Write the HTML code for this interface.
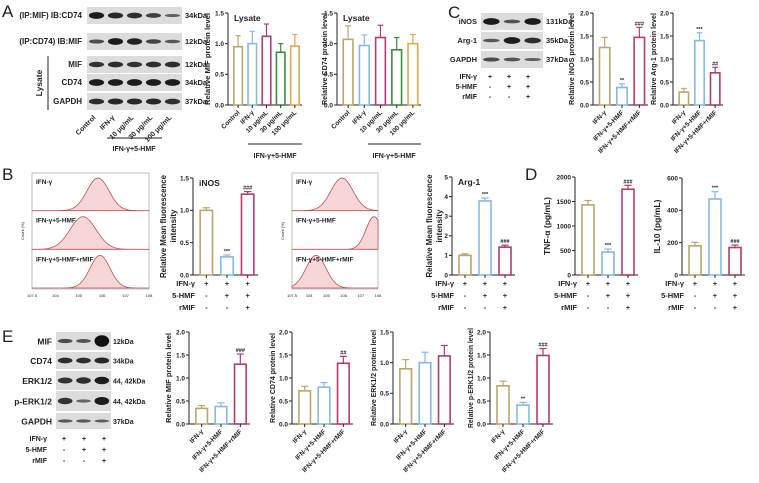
<!DOCTYPE html>
<html><head><meta charset="utf-8">
<style>
html,body{margin:0;padding:0;background:#fff;}
svg{display:block;font-family:"Liberation Sans",Arial,sans-serif;}
text{fill:#222;}
</style></head>
<body>
<svg id="fig" width="759" height="483" viewBox="0 0 759 483" xmlns="http://www.w3.org/2000/svg"></svg>
<script>
// ---------- data ----------
const groups3 = ["IFN-γ","IFN-γ+5-HMF","IFN-γ+5-HMF+rMIF"];
const groupsA = ["Control","IFN-γ","10 μg/mL","30 μg/mL","100 μg/mL"];
const aMifVals = [0.95,1.0,1.12,0.86,0.96];
const aMifErr = [0.18,0.2,0.2,0.14,0.19];
const aCd74Vals = [1.07,0.97,1.1,0.9,1.0];
const aCd74Err = [0.22,0.17,0.2,0.2,0.15];
const cInosVals = [1.25,0.38,1.47];
const cInosErr = [0.22,0.08,0.22];
const cArgVals = [0.28,1.4,0.7];
const cArgErr = [0.08,0.17,0.12];
const bInosVals = [1.0,0.28,1.25];
const bInosErr = [0.04,0.03,0.04];
const bArgVals = [1.0,3.78,1.42];
const bArgErr = [0.08,0.15,0.1];
const dTnfVals = [1430,470,1750];
const dTnfErr = [90,60,80];
const dIlVals = [180,470,170];
const dIlErr = [22,45,15];
const eMifVals = [0.34,0.38,1.3];
const eMifErr = [0.06,0.08,0.22];
const eCd74Vals = [0.72,0.8,1.32];
const eCd74Err = [0.1,0.1,0.15];
const eErkVals = [0.9,1.0,1.11];
const eErkErr = [0.15,0.17,0.17];
const ePerkVals = [0.83,0.41,1.49];
const ePerkErr = [0.1,0.06,0.15];
const ticks2 = ["0.0","0.5","1.0","1.5","2.0"];
const ticks15 = ["0.0","0.5","1.0","1.5"];
const colors5 = ["#b9a66b","#86b9e6","#b53a70","#3e8a43","#e2a64b"];
const colors3 = ["#b9a66b","#86b9e6","#b53a70"];

const S = document.getElementById('fig');
const NS = "http://www.w3.org/2000/svg";
function el(tag, attrs, parent){
  const e = document.createElementNS(NS, tag);
  for (const k in attrs) e.setAttribute(k, attrs[k]);
  (parent||S).appendChild(e);
  return e;
}
function txt(x,y,s,size,opts,parent){
  const t = el('text',Object.assign({x:x,y:y,'font-size':size},opts||{}),parent);
  t.textContent = s;
  return t;
}

function barChart(o){
  const g = el('g',{});
  
  
  const yScale = v => o.y0 - (v/o.max)*(o.y0-o.y1);
  const n = o.vals.length;
  const pad = 3;
  const slot = (o.x1-o.x0-pad)/n;
  const bw = slot*0.6;
  const ax = el('line',{x1:o.x0,y1:o.y1,x2:o.x0,y2:o.y0,stroke:'#222','stroke-width':1},g);
  
  
  el('line',{x1:o.x0,y1:o.y0,x2:o.x1,y2:o.y0,stroke:'#222','stroke-width':1},g);
  o.ticks.forEach((t,i)=>{
    const v = o.tickVals[i];
    const y = yScale(v);
    el('line',{x1:o.x0-3,y1:y,x2:o.x0,y2:y,stroke:'#222','stroke-width':1},g);
    const tl = txt(o.x0-4,y+2.3,t,6.5,{'text-anchor':'end','font-weight':'bold'},g);
    
    
  });
  const yt = txt(0,0,o.ytitle,o.ytSize||7,{'text-anchor':'middle','font-weight':'bold',textLength:o.ytLen,lengthAdjust:'spacingAndGlyphs',transform:`translate(${o.ytX},${(o.y0+o.y1)/2}) rotate(-90)`},g);
  
  
  if (o.ttl){
    const tt = txt(o.x0+6,o.y1+8,o.ttl,8.5,{'font-weight':'bold'},g);
    
    
  }
  o.vals.forEach((v,i)=>{
    const cx = o.x0 + pad + slot*(i+0.5);
    const y = yScale(v), ye = yScale(v+o.err[i]);
    const b = el('rect',{x:cx-bw/2,y:y,width:bw,height:o.y0-y,fill:'#fff',stroke:o.colors[i],'stroke-width':1.6},g);
    
    
    el('line',{x1:cx,y1:y,x2:cx,y2:ye,stroke:o.colors[i],'stroke-width':1.2},g);
    el('line',{x1:cx-bw*0.3,y1:ye,x2:cx+bw*0.3,y2:ye,stroke:o.colors[i],'stroke-width':1.2},g);
    el('line',{x1:cx,y1:o.y0,x2:cx,y2:o.y0+3,stroke:'#222','stroke-width':1},g);
    if (o.sig && o.sig[i]){
      const s = txt(cx,ye-2,o.sig[i],5.5,{'text-anchor':'middle','font-weight':'bold'},g);
      
      
    }
    if (o.labels){
      const l = txt(0,0,o.labels[i],o.lblSize||6.5,{'text-anchor':'end','font-weight':'bold',transform:`translate(${cx+2},${o.y0+8}) rotate(-45)`},g);
      
      
    }
  });
  if (o.table){
    const rows = [["IFN-γ","+","+","+"],["5-HMF","-","+","+"],["rMIF","-","-","+"]];
    rows.forEach((r,j)=>{
      const y = o.y0+11+j*12;
      const l = txt(o.x0+2,y,r[0],7.5,{'text-anchor':'end','font-weight':'bold'},g);
      
      
      for(let i=0;i<3;i++) txt(o.x0+pad+slot*(i+0.5),y,r[i+1],7.5,{'text-anchor':'middle','font-weight':'bold'},g);
    });
  }
  return g;
}

[["A",2,17],["B",2,180],["C",448,18],["D",525,180],["E",2,342]].forEach(p=>{
  const t = txt(p[1],p[2],p[0],17,{});
  
  
});

function blot(x,y,w,h,bands,name){
  const g = el('g',{});
  
  
  el('rect',{x:x,y:y,width:w,height:h,fill:'#dcdcdc'},g);
  const n = bands.length, s = w/n;
  bands.forEach((b,i)=>{
    el('ellipse',{cx:x+s*(i+0.5),cy:y+h/2,rx:s*0.4,ry:Math.max(1.2,h*0.2*b),fill:'#111',opacity:Math.min(1,0.35+0.6*b)},g);
  });
}

// ---------- Panel A ----------
const aRows = [["(IP:MIF) IB:CD74",7,[1,0.9,0.85,0.7,0.45],"34kDa"],["(IP:CD74) IB:MIF",33,[0.6,1,0.95,0.65,0.5],"12kDa"],["MIF",56,[0.8,0.85,0.8,0.85,0.85],"12kDa"],["CD74",74,[1,1,1,1,1],"34kDa"],["GAPDH",93,[0.85,0.9,0.9,0.9,0.85],"37kDa"]];
aRows.forEach((r,i)=>{
  blot(87,r[1],95,17,r[2],'blot-a-'+i);
  const l = txt(82,r[1]+11,r[0],8,{'text-anchor':'end','font-weight':'bold'});
  
  
  txt(185,r[1]+11,r[3],7.5,{'font-weight':'bold'});
});
el('line',{x1:48,y1:56,x2:48,y2:110,stroke:'#222','stroke-width':1});
txt(0,0,"Lysate",8.5,{'text-anchor':'middle','font-weight':'bold',transform:'translate(42,83) rotate(-90)'});
groupsA.forEach((g,i)=>{
  txt(0,0,g,7,{'text-anchor':'end','font-weight':'bold',transform:`translate(${96+i*19},${118}) rotate(-45)`});
});
el('line',{x1:107,y1:138,x2:162,y2:138,stroke:'#222','stroke-width':1});
txt(134,151,"IFN-γ+5-HMF",7,{'text-anchor':'middle','font-weight':'bold'});

barChart({name:'chart-a-mif',x0:228,x1:302,y0:105,y1:13,max:1.5,ticks:ticks15,tickVals:[0,0.5,1,1.5],vals:aMifVals,err:aMifErr,colors:colors5,labels:groupsA,ytitle:"Relative MIF protein level",ytX:210,ytLen:92,ttl:"Lysate"});
el('line',{x1:248,y1:144,x2:302,y2:144,stroke:'#222','stroke-width':1});
txt(275,158,"IFN-γ+5-HMF",7,{'text-anchor':'middle','font-weight':'bold'});
barChart({name:'chart-a-cd74',x0:337,x1:421,y0:105,y1:13,max:1.5,ticks:ticks15,tickVals:[0,0.5,1,1.5],vals:aCd74Vals,err:aCd74Err,colors:colors5,labels:groupsA,ytitle:"Relative CD74 protein level",ytX:327,ytLen:92,ttl:"Lysate"});
el('line',{x1:368,y1:144,x2:421,y2:144,stroke:'#222','stroke-width':1});
txt(394,158,"IFN-γ+5-HMF",7,{'text-anchor':'middle','font-weight':'bold'});

// ---------- Panel C ----------
const cRows = [["iNOS",13,[1,0.55,1],"131kDa"],["Arg-1",32,[0.5,1,0.85],"35kDa"],["GAPDH",51,[0.6,0.55,0.45],"37kDa"]];
cRows.forEach((r,i)=>{
  blot(481,r[1],62,17,r[2],'blot-c-'+i);
  txt(477,r[1]+11,r[0],7.5,{'text-anchor':'end','font-weight':'bold'});
  txt(546,r[1]+11,r[3],7.5,{'font-weight':'bold'});
});
[["IFN-γ","+","+","+"],["5-HMF","-","+","+"],["rMIF","-","-","+"]].forEach((r,j)=>{
  const y = 79+j*10;
  txt(477,y,r[0],7,{'text-anchor':'end','font-weight':'bold'});
  for(let i=0;i<3;i++) txt(490+i*19,y,r[i+1],7,{'text-anchor':'middle','font-weight':'bold'});
});
barChart({name:'chart-c-inos',x0:593,x1:648,y0:105,y1:13,max:2,ticks:ticks2,tickVals:[0,0.5,1,1.5,2],vals:cInosVals,err:cInosErr,colors:colors3,labels:groups3,ytitle:"Relative  iNOS protein level",ytX:574,ytLen:92,sig:["","**","###"]});
barChart({name:'chart-c-arg1',x0:673,x1:723,y0:105,y1:13,max:2,ticks:ticks2,tickVals:[0,0.5,1,1.5,2],vals:cArgVals,err:cArgErr,colors:colors3,labels:groups3,ytitle:"Relative  Arg-1 protein level",ytX:656,ytLen:92,sig:["","***","##"]});

// ---------- Panel B flow ----------
const flowAPeaks = [98,83,100];
const flowBPeaks = [342,374,316];
function flow(x,y,w,h,peaks,widths,name,labels){
  const g = el('g',{});
  
  
  el('rect',{x:x,y:y,width:w,height:h,fill:'#fff',stroke:'#999','stroke-width':0.6},g);
  const sh = h/3;
  peaks.forEach((p,i)=>{
    const base = y+sh*(i+1)-1;
    let d = `M${x},${base}`;
    for(let xx=x; xx<=x+w; xx+=1){
      const v = Math.exp(-Math.pow((xx-p)/widths[i],2)/2);
      d += ` L${xx},${base - v*(sh-6)}`;
    }
    d += ` L${x+w},${base} Z`;
    const pth = el('path',{d:d,fill:'#f6d6d6',stroke:'#c0504d','stroke-width':0.8},g);
    
    
    txt(x+4,y+sh*i+11,labels[i],6.5,{'font-weight':'bold'},g);
  });
  ['10^7.5','10^4','10^5','10^6','10^7','10^8'].forEach((t,i)=>{
    txt(x+i*w/5,y+h+8,t.replace('10^','10'),4,{'text-anchor':'middle'},g);
  });
  txt(0,0,"Count (%)",4,{'text-anchor':'middle',transform:`translate(${x-8},${y+h/2}) rotate(-90)`},g);
}
flow(32,173,117,116,flowAPeaks,[11,13,10],'flow-inos',["IFN-γ","IFN-γ+5-HMF","IFN-γ+5-HMF+rMIF"]);
flow(292,173,86,116,flowBPeaks,[11,8,10],'flow-arg1',["IFN-γ","IFN-γ+5-HMF","IFN-γ+5-HMF+rMIF"]);

barChart({name:'chart-b-inos',x0:193,x1:258,y0:275,y1:178,max:1.5,ticks:ticks15,tickVals:[0,0.5,1,1.5],vals:bInosVals,err:bInosErr,colors:colors3,ytitle:"Relative Mean fluorescence",ytX:166,ytLen:103,ytSize:8,ttl:"iNOS",table:true,sig:["","***","###"]});
txt(0,0,"intensity",8,{'text-anchor':'middle','font-weight':'bold',transform:'translate(176,226) rotate(-90)'});
barChart({name:'chart-b-arg1',x0:452,x1:515,y0:275,y1:177,max:5,ticks:["0","1","2","3","4","5"],tickVals:[0,1,2,3,4,5],vals:bArgVals,err:bArgErr,colors:colors3,ytitle:"Relative Mean fluorescence",ytX:432,ytLen:103,ytSize:8,ttl:"Arg-1",table:true,sig:["","***","###"]});
txt(0,0,"intensity",8,{'text-anchor':'middle','font-weight':'bold',transform:'translate(442,226) rotate(-90)'});

// ---------- Panel D ----------
barChart({name:'chart-d-tnf',x0:575,x1:638,y0:275,y1:177,max:2000,ticks:["0","500","1000","1500","2000"],tickVals:[0,500,1000,1500,2000],vals:dTnfVals,err:dTnfErr,colors:colors3,ytitle:"TNF-α (pg/mL)",ytX:550,ytLen:58,ytSize:8,table:true,sig:["","***","###"]});
barChart({name:'chart-d-il10',x0:682,x1:745,y0:275,y1:178,max:600,ticks:["0","200","400","600"],tickVals:[0,200,400,600],vals:dIlVals,err:dIlErr,colors:colors3,ytitle:"IL-10 (pg/mL)",ytX:660,ytLen:54,ytSize:8,table:true,sig:["","***","###"]});

// ---------- Panel E ----------
const eRows = [["MIF",332,18,[0.6,0.55,1.6],"12kDa"],["CD74",352,17,[0.85,0.85,0.9],"34kDa"],["ERK1/2",371,19,[0.8,0.85,1],"44, 42kDa"],["p-ERK1/2",391,20,[0.8,0.4,1],"44, 42kDa"],["GAPDH",413,16,[0.5,0.5,0.45],"37kDa"]];
eRows.forEach((r,i)=>{
  blot(56,r[1],55,r[2],r[3],'blot-e-'+i);
  txt(52,r[1]+r[2]/2+3.5,r[0],8.5,{'text-anchor':'end','font-weight':'bold'});
  txt(113,r[1]+r[2]/2+3,r[4],7,{'font-weight':'bold'});
});
[["IFN-γ","+","+","+"],["5-HMF","-","+","+"],["rMIF","-","-","+"]].forEach((r,j)=>{
  const y = 441+j*11;
  txt(47,y,r[0],7,{'text-anchor':'end','font-weight':'bold'});
  for(let i=0;i<3;i++) txt(64+i*20,y,r[i+1],7,{'text-anchor':'middle','font-weight':'bold'});
});
barChart({name:'chart-e-mif',x0:189,x1:250,y0:424,y1:332,max:2,ticks:ticks2,tickVals:[0,0.5,1,1.5,2],vals:eMifVals,err:eMifErr,colors:colors3,labels:groups3,ytitle:"Relative  MIF protein level",ytX:171,ytLen:90,sig:["","","###"]});
barChart({name:'chart-e-cd74',x0:292,x1:353,y0:424,y1:332,max:2,ticks:ticks2,tickVals:[0,0.5,1,1.5,2],vals:eCd74Vals,err:eCd74Err,colors:colors3,labels:groups3,ytitle:"Relative  CD74 protein level",ytX:275,ytLen:90,sig:["","","##"]});
barChart({name:'chart-e-erk',x0:393,x1:454,y0:424,y1:332,max:1.5,ticks:ticks15,tickVals:[0,0.5,1,1.5],vals:eErkVals,err:eErkErr,colors:colors3,labels:groups3,ytitle:"Relative  ERK1/2 protein level",ytX:376,ytLen:96});
barChart({name:'chart-e-perk',x0:490,x1:553,y0:424,y1:332,max:2,ticks:ticks2,tickVals:[0,0.5,1,1.5,2],vals:ePerkVals,err:ePerkErr,colors:colors3,labels:groups3,ytitle:"Relative  p-ERK1/2 protein level",ytX:473,ytLen:100,sig:["","**","###"]});
</script>
</body></html>
